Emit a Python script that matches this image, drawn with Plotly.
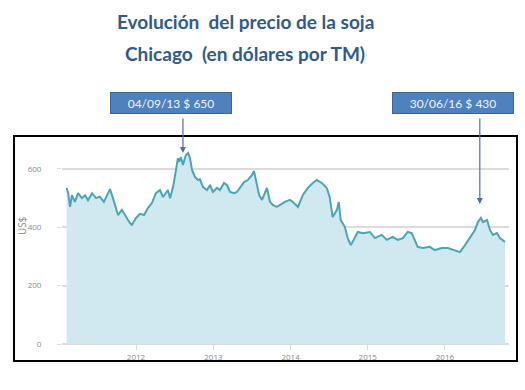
import plotly.graph_objects as go

# ---- data ----
dates = [
    "2011-02-07", "2011-02-14", "2011-02-23", "2011-03-04", "2011-03-18", "2011-04-02",
    "2011-04-20", "2011-05-05", "2011-05-19", "2011-06-07", "2011-06-26", "2011-07-14",
    "2011-08-02", "2011-08-31", "2011-09-14", "2011-10-08", "2011-10-26", "2011-11-14",
    "2011-12-03", "2011-12-12", "2012-01-01", "2012-01-20", "2012-02-08", "2012-02-26",
    "2012-03-16", "2012-04-04", "2012-04-23", "2012-05-08", "2012-05-31", "2012-06-10",
    "2012-06-24", "2012-07-08", "2012-07-17", "2012-07-22", "2012-07-31", "2012-08-10",
    "2012-08-24", "2012-09-03", "2012-09-12", "2012-09-22", "2012-10-06", "2012-10-20",
    "2012-10-29", "2012-11-13", "2012-12-02", "2012-12-16", "2012-12-30", "2013-01-18",
    "2013-02-01", "2013-02-20", "2013-03-06", "2013-03-21", "2013-04-09", "2013-04-22",
    "2013-05-07", "2013-05-26", "2013-06-13", "2013-07-02", "2013-07-12", "2013-07-21",
    "2013-08-05", "2013-08-19", "2013-09-02", "2013-09-11", "2013-09-26", "2013-10-09",
    "2013-10-28", "2013-11-12", "2013-12-05", "2013-12-29", "2014-01-12", "2014-02-05",
    "2014-02-28", "2014-03-24", "2014-04-16", "2014-05-05", "2014-05-29", "2014-06-21",
    "2014-07-05", "2014-07-19", "2014-08-08", "2014-08-17", "2014-08-26", "2014-09-15",
    "2014-09-28", "2014-10-13", "2014-11-01", "2014-11-15", "2014-12-09", "2015-01-11",
    "2015-02-04", "2015-03-08", "2015-04-01", "2015-04-29", "2015-05-23", "2015-06-16",
    "2015-07-09", "2015-07-28", "2015-08-11", "2015-08-25", "2015-09-18", "2015-10-21",
    "2015-11-14", "2015-12-17", "2016-01-15", "2016-02-17", "2016-03-12", "2016-04-05",
    "2016-04-28", "2016-05-22", "2016-06-05", "2016-06-19", "2016-06-29", "2016-07-18",
    "2016-08-01", "2016-08-15", "2016-09-03", "2016-09-17", "2016-10-11",
]
prices = [
    535, 517, 470, 510, 487, 517,
    500, 510, 493, 517, 500, 505,
    487, 531, 500, 442, 460, 435,
    415, 408, 432, 446, 442, 466,
    483, 517, 528, 504, 528, 500,
    538, 596, 637, 624, 641, 614,
    648, 655, 638, 597, 573, 562,
    565, 538, 528, 545, 521, 535,
    528, 552, 545, 521, 517, 521,
    538, 555, 562, 579, 593, 562,
    511, 494, 521, 535, 487, 477,
    470, 477, 487, 494, 487, 470,
    511, 535, 552, 562, 552, 535,
    504, 435, 459, 487, 425, 401,
    363, 339, 363, 384, 380, 384,
    363, 374, 357, 367, 357, 363,
    384, 380, 357, 333, 329, 333,
    322, 329, 329, 322, 315, 339,
    363, 391, 418, 432, 418, 425,
    391, 374, 380, 363, 350,
]

tick_vals = ["2012-01-01", "2013-01-01", "2014-01-01", "2015-01-01", "2016-01-01"]
tick_text = ["2012", "2013", "2014", "2015", "2016"]
y_ticks = [0, 200, 400, 600]

title_lines = ["Evolución  del precio de la soja", "Chicago  (en dólares por TM)"]
callouts = [
    {"label": "04/09/13 $ 650", "date": "2012-08-10", "value": 655},
    {"label": "30/06/16 $ 430", "date": "2016-06-14", "value": 480},
]

# plot-area geometry in pixels (used for paper-relative placements)
L, R, T, B = 62, 509, 150, 344
W, H = R - L, B - T
YMAX = 665


def px_x(p):
    return (p - L) / W


def px_y(p):
    return (B - p) / H


fig = go.Figure()
fig.add_trace(go.Scatter(
    x=dates, y=prices, mode="lines", fill="tozeroy",
    line=dict(color="#4aa6b6", width=2),
    fillcolor="#d0e8ef",
    hoverinfo="skip", showlegend=False,
))

grey = "#8a8a8a"
fig.update_layout(
    width=525, height=390,
    margin=dict(l=L, r=525 - R, t=T, b=390 - B, autoexpand=False),
    paper_bgcolor="white", plot_bgcolor="white",
    font=dict(family="Open Sans, sans-serif", color=grey, size=8),
    xaxis=dict(
        type="date", range=["2011-01-16", "2016-10-30"], automargin=False,
        tickvals=tick_vals, ticktext=tick_text,
        showgrid=False, zeroline=False, showline=False,
        ticks="outside", ticklen=5, tickcolor="#dddddd",
        tickfont=dict(size=8, color=grey),
    ),
    yaxis=dict(
        range=[0, YMAX], tickvals=y_ticks, automargin=False,
        showgrid=True, gridcolor="#dcdcdc", gridwidth=1.5,
        zeroline=True, zerolinecolor="#dcdcdc", zerolinewidth=1.5,
        ticks="outside", ticklen=4, tickcolor="#dddddd",
        ticklabelstandoff=14,
        tickfont=dict(size=8, color=grey),
    ),
)

# y-axis title
fig.add_annotation(xref="paper", yref="paper", x=px_x(22), y=px_y(226),
                   xanchor="center", yanchor="middle",
                   text="US$", textangle=-90, showarrow=False,
                   font=dict(size=10, color=grey))

# outer black frame
fig.add_shape(type="rect", xref="paper", yref="paper",
              x0=px_x(14), x1=px_x(517), y0=px_y(361), y1=px_y(136),
              line=dict(color="black", width=2), fillcolor="rgba(0,0,0,0)", layer="above")

# title
for line, ypx in zip(title_lines, [22, 53]):
    fig.add_annotation(
        xref="paper", yref="paper", x=px_x(245), y=px_y(ypx),
        text=f"<b>{line}</b>", showarrow=False, xanchor="center", yanchor="middle",
        font=dict(family="Lato, sans-serif", size=19, color="#2f5a8c"),
    )

# callout boxes + arrows
box_centers = [171, 453]
for c, cx in zip(callouts, box_centers):
    fig.add_annotation(
        xref="paper", yref="paper", x=px_x(cx), y=px_y(103),
        text=c["label"], showarrow=False, xanchor="center", yanchor="middle",
        bgcolor="#4f81bd", bordercolor="#3a6596", borderwidth=1,
        width=118, height=18,
        font=dict(family="Lato, sans-serif", size=12, color="#eef3fa"),
    )
    fig.add_annotation(
        x=c["date"], y=c["value"], xref="x", yref="y", text="",
        showarrow=True, arrowhead=2, arrowsize=1, arrowwidth=1.2,
        arrowcolor="#4a6fb0", axref="pixel", ayref="pixel", ax=0,
        ay=-((B - c["value"] * H / YMAX) - 117),
    )

fig.write_html(
    "out.html",
    config={"displayModeBar": False},
    post_script="document.body.style.margin='0';document.body.style.overflow='hidden';",
)
